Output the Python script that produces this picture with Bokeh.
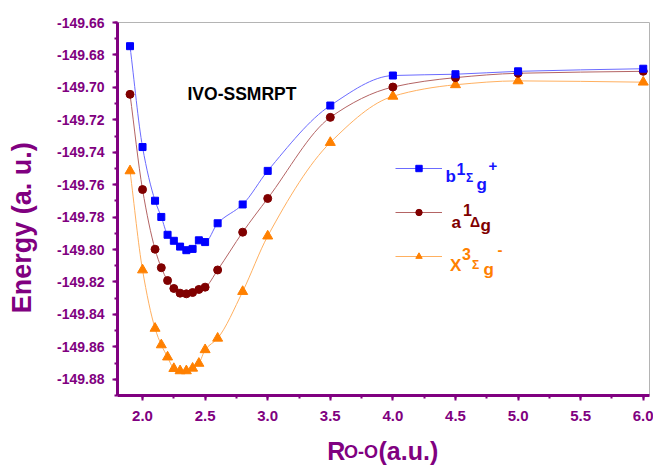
import numpy as np
from bokeh.plotting import figure
from bokeh.models import (Range1d, SingleIntervalTicker, NumeralTickFormatter,
                          Label, Legend, LegendItem, LinearAxis, FixedTicker)
from bokeh.embed import file_html
from bokeh.resources import INLINE

# ---------------- data ----------------
r_oo = [1.9, 2.0, 2.1, 2.15, 2.2, 2.25, 2.3, 2.35, 2.4, 2.45, 2.5,
        2.6, 2.8, 3.0, 3.5, 4.0, 4.5, 5.0, 6.0]
e_b1sg = [-149.6746, -149.7368, -149.7699, -149.7799, -149.7909, -149.7946,
          -149.7982, -149.8004, -149.7996, -149.7943, -149.7954, -149.7838,
          -149.7722, -149.7515, -149.7112, -149.6927, -149.6919, -149.6901,
          -149.6885]
e_a1dg = [-149.7043, -149.7630, -149.7998, -149.8112, -149.8191, -149.8240,
          -149.8269, -149.8273, -149.8265, -149.8246, -149.8232, -149.8126,
          -149.7893, -149.7685, -149.7185, -149.6998, -149.6940, -149.6913,
          -149.6901]
e_x3sg = [-149.7515, -149.8126, -149.8486, -149.8588, -149.8663, -149.8734,
          -149.8748, -149.8748, -149.8732, -149.8702, -149.8618, -149.8547,
          -149.8259, -149.7917, -149.7340, -149.7055, -149.6984, -149.6960,
          -149.6968]
x_range = (1.8, 6.05)
y_range = (-149.89, -149.66)
title_text = "IVO-SSMRPT"
y_title = "Energy (a. u.)"
x_title_main = "R"
x_title_sub = "O-O"
x_title_tail = "(a.u.)"

PURPLE = "#800080"
FONT = "Liberation Sans"

# ---------------- figure ----------------
W, H = 653, 467
MBL, MBR, MBT, MBB = 117, 4, 22, 68
p = figure(width=W, height=H, output_backend="svg", toolbar_location=None,
           x_range=Range1d(*x_range), y_range=Range1d(*y_range),
           min_border_left=MBL, min_border_right=MBR, min_border_top=MBT,
           min_border_bottom=MBB)
p.xgrid.visible = False
p.ygrid.visible = False
p.outline_line_color = "#b4b4b4"
p.outline_line_width = 1
p.background_fill_color = "white"

for ax in (p.xaxis[0], p.yaxis[0]):
    ax.axis_line_color = PURPLE
    ax.axis_line_width = 3
    ax.major_tick_line_color = PURPLE
    ax.minor_tick_line_color = PURPLE
    ax.major_tick_line_width = 2
    ax.minor_tick_line_width = 2
    ax.major_tick_in = 0
    ax.major_tick_out = 5
    ax.minor_tick_in = 0
    ax.minor_tick_out = 3
    ax.major_label_text_color = PURPLE
    ax.major_label_text_font = FONT
    ax.major_label_text_font_style = "bold"

xa = p.xaxis[0]
xa.ticker = SingleIntervalTicker(interval=0.5, num_minor_ticks=2)
xa.formatter = NumeralTickFormatter(format="0.0")
xa.major_label_text_font_size = "15px"
xa.major_label_standoff = 10
# subscript of the x title; trailing no-break spaces move it left under "R"
xa.axis_label = x_title_sub + "\u00a0" * 9
xa.axis_label_text_font = FONT
xa.axis_label_text_font_style = "bold"
xa.axis_label_text_font_size = "18px"
xa.axis_label_text_color = PURPLE
xa.axis_label_standoff = 18

ya = p.yaxis[0]
ya.ticker = SingleIntervalTicker(interval=0.02, num_minor_ticks=2)
ya.formatter = NumeralTickFormatter(format="0.00")
ya.major_label_text_font_size = "14px"
ya.major_label_standoff = 8
# trailing no-break spaces shift the centred title down to where the reference has it
ya.axis_label = y_title + "\u00a0" * 5
ya.axis_label_text_font = FONT
ya.axis_label_text_font_style = "bold"
ya.axis_label_text_font_size = "27px"
ya.axis_label_text_color = PURPLE
ya.axis_label_standoff = 17


def bezier_segments(x, y):
    """Shape-preserving cubic (PCHIP) segments through the data points."""
    x = np.asarray(x, float)
    y = np.asarray(y, float)
    h = np.diff(x)
    d = np.diff(y) / h
    n = len(x)
    m = np.zeros(n)
    m[0], m[-1] = d[0], d[-1]
    for k in range(1, n - 1):
        if d[k - 1] * d[k] > 0:
            w1 = 2 * h[k] + h[k - 1]
            w2 = h[k] + 2 * h[k - 1]
            m[k] = (w1 + w2) / (w1 / d[k - 1] + w2 / d[k])
    return dict(x0=x[:-1], y0=y[:-1], x1=x[1:], y1=y[1:],
                cx0=x[:-1] + h / 3, cy0=y[:-1] + m[:-1] * h / 3,
                cx1=x[1:] - h / 3, cy1=y[1:] - m[1:] * h / 3)


series = [
    (e_x3sg, "#ffb060", "#ff8000", "triangle", 10),
    (e_a1dg, "#b46464", "#800000", "circle", 8),
    (e_b1sg, "#6b6bff", "#0000ff", "square", 7),
]
rends = {}
for ys, lc, mc, mk, sz in series:
    b = p.bezier(**bezier_segments(r_oo, ys), line_color=lc, line_width=1)
    s = p.scatter(r_oo, ys, marker=mk, size=sz, fill_color=mc, line_color=mc)
    rends[mc] = (b, s)

legend = Legend(items=[
    LegendItem(label=" ", renderers=list(rends["#0000ff"])),
    LegendItem(label=" ", renderers=list(rends["#800000"])),
    LegendItem(label=" ", renderers=list(rends["#ff8000"])),
], location=(277.5, 131), glyph_width=47, glyph_height=16, label_height=16,
    label_width=0, label_standoff=0, spacing=28, padding=0, margin=0,
    border_line_alpha=0, background_fill_alpha=0, label_text_font_size="1px")
p.add_layout(legend)

# page-pixel -> data helpers for text annotations
FL, FB = float(MBL), float(H - MBB)
sx = (x_range[1] - x_range[0]) / (W - MBL - MBR)
sy = (y_range[1] - y_range[0]) / (H - MBT - MBB)


def dx(px):
    return x_range[0] + (px - FL) * sx


def dy(py):
    return y_range[0] + (FB - py) * sy


# "R" and "(a.u.)" of the x title: a label-only axis pulled up over the subscript
r_x = float(dx(335.7))
tail_x = float(dx(407.9))
title_axis = LinearAxis(ticker=FixedTicker(ticks=[r_x, tail_x]),
                        major_label_overrides={r_x: x_title_main,
                                               tail_x: x_title_tail},
                        axis_line_color=None, major_tick_line_color=None,
                        minor_tick_line_color=None, major_tick_in=0,
                        major_tick_out=0, minor_tick_in=0, minor_tick_out=0,
                        major_label_standoff=-28,
                        major_label_text_font=FONT,
                        major_label_text_font_style="bold",
                        major_label_text_font_size="25px",
                        major_label_text_color=PURPLE)
p.add_layout(title_axis, "below")


def txt(s, px, py, size, color, style="bold"):
    p.add_layout(Label(x=dx(px), y=dy(py), text=s, text_font=FONT,
                       text_font_style=style, text_font_size=f"{size}px",
                       text_color=color, text_align="left",
                       text_baseline="alphabetic"))


txt(title_text, 187, 94, 17.5, "black")

BLUE, RED, ORANGE = "#1414ff", "#800000", "#ff8000"
txt("b", 445, 178, 17, BLUE)
txt("1", 456, 170, 16, BLUE)
txt("Σ", 465.5, 179, 12, BLUE)
txt("g", 476, 186, 17, BLUE)
txt("+", 488, 167.5, 15, BLUE)

txt("a", 451, 224, 17, RED)
txt("1", 462.5, 211.5, 16, RED)
txt("Δ", 469.5, 224, 14, RED)
txt("g", 480, 227, 17, RED)

txt("X", 449.5, 268, 17, ORANGE)
txt("3", 461.5, 256, 16, ORANGE)
txt("Σ", 471.5, 267, 12, ORANGE)
txt("g", 483, 272, 17, ORANGE)
txt("-", 497, 252, 15, ORANGE)

open("out.html", "w").write(file_html(p, INLINE))
